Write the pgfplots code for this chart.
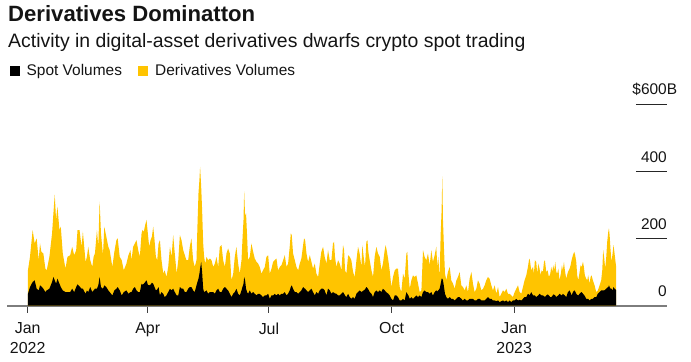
\documentclass[border=0pt]{standalone}
\usepackage{pgfplots}
\pgfplotsset{compat=1.18}
\usepackage{pgfplotstable}
\usepackage{fontspec}
\setmainfont{Liberation Sans}
\definecolor{byellow}{RGB}{255,196,0}
\definecolor{axgray}{RGB}{125,125,125}
\definecolor{txt}{RGB}{20,20,20}
\pgfplotstableread{
d y s
0 105 35
1.5 145 55
3.5 225 70
5 185 75
6.5 200 50
8 135 45
9 185 60
10 160 57
11.5 155 50
13 110 40
14 105 45
16 145 50
18 215 70
19 275 85
20 330 75
21 255 65
22 295 80
23.5 225 65
24.5 235 55
26 155 45
28 110 40
29.5 145 40
31.5 150 40
33 175 50
34.5 150 40
36 165 55
37 225 63
38.5 225 57
40 175 50
41 220 50
43 130 35
44 145 45
45 175 40
46.5 135 55
48 115 40
49 145 45
50 155 50
51.5 225 50
52.5 175 60
53.5 310 85
54.5 215 55
56 150 50
57 235 60
58.5 205 55
60 175 45
61 165 40
63 115 30
64.5 160 45
66 195 50
67 200 55
68.5 145 45
70 135 30
71.5 105 40
73.5 125 45
75 150 35
76.5 165 40
77.3 135 40
78.5 175 50
79.8 185 55
81 195 45
82.3 165 40
83.5 145 40
84.8 215 65
85.5 225 62
86.5 220 65
87.5 240 70
88.5 255 75
89.5 215 62
90.5 175 60
91.5 195 62
92.5 205 68
93.5 235 65
94.5 195 55
95.5 145 45
96.5 135 48
97.5 185 55
98.5 195 30
99.7 135 40
101 95 35
102 105 25
103.4 85 30
104.7 115 40
106 175 50
107.2 145 45
108.4 210 50
109.6 155 40
111 95 30
112.2 135 30
113.4 210 55
114.6 195 50
115.9 165 50
117.1 150 40
118.3 135 40
119.6 135 50
120.8 175 55
122 200 55
123.3 135 45
124.5 115 40
125.8 135 60
126.5 235 70
127.3 335 80
128 375 95
128.5 413 110
129.3 355 130
130 285 100
130.8 185 50
131.5 145 40
132.3 125 42
133.3 145 45
134.5 135 35
135.8 140 40
137 135 40
138.3 115 40
139.5 125 35
140.7 145 45
142 115 50
143.2 175 40
144.5 180 40
145.7 135 50
147 115 55
148.2 155 50
149.4 170 45
150.7 155 35
151.9 75 25
153.2 95 35
154.4 145 40
155.6 175 50
156.9 125 35
158.1 95 30
159.4 135 45
160.1 195 55
160.9 255 65
161.4 340 85
162.1 265 75
162.8 275 50
163.6 205 40
164.3 135 35
165.6 145 45
166.8 185 35
168.1 160 40
169.3 140 35
170.6 130 30
171.8 125 35
173 115 35
174.3 95 30
175.5 105 25
176.8 115 30
178 145 30
179.3 150 35
180.5 95 20
181.8 110 30
183 130 30
184.2 135 35
185.5 140 30
186.7 105 35
188 115 30
189.2 120 35
190.5 135 35
191.7 150 40
193 115 30
194.2 125 35
195.4 175 45
196.2 215 55
196.9 210 60
197.9 155 50
199.2 135 40
200.4 115 40
201.7 105 35
202.9 125 40
204.1 140 45
205.4 180 55
206.1 200 52
206.9 195 50
207.9 155 45
209.1 130 40
210.4 150 45
211.6 130 50
212.8 110 40
214.1 125 30
215.3 95 40
216.6 85 35
217.8 125 45
219 160 50
220.3 175 50
221.5 145 45
222.8 125 30
224 165 50
225.3 135 45
226.5 135 35
227.7 185 40
228.5 190 38
229.2 145 36
230.2 115 35
231.5 135 30
232.7 125 30
234 105 35
235.2 180 40
236 165 35
236.7 105 30
237.7 95 25
239 150 35
240.2 145 25
241.4 135 20
242.7 100 25
243.9 85 20
245.2 135 35
246.4 175 40
247.6 155 45
248.9 115 40
249.6 180 42
250.6 145 45
251.6 115 48
252.6 190 55
253.4 195 52
254.1 160 48
255.1 135 40
256.4 105 35
257.6 85 25
258.8 145 40
260.1 175 45
261.3 155 40
262.6 145 45
263.8 105 40
265 125 50
266.3 165 45
267 180 42
268 160 38
269 135 35
270 105 30
271.3 55 20
272.5 85 15
273.8 105 30
275 110 30
276.2 110 25
277.5 55 15
278.7 40 15
280 95 20
281.2 80 15
282.5 155 40
283.2 160 35
284 95 30
285 50 20
286.2 75 25
287.4 90 20
288.7 85 25
289.9 90 30
291.2 65 25
292.4 40 30
293.7 45 25
294.9 165 40
296.1 145 45
297.4 135 40
298.6 155 40
299.9 120 35
301.1 165 40
302.3 130 30
303.6 150 40
304.8 175 45
305.6 115 42
306.3 145 45
307.3 85 50
308.1 215 65
308.8 285 80
309.3 385 80
309.8 255 75
310.6 165 55
311.3 95 35
312.3 75 25
313.5 100 20
314.8 115 25
316 75 20
317.3 65 20
318.5 50 15
319.8 75 20
321 85 25
322.2 100 25
323.5 60 20
324.7 55 15
326 45 20
327.2 60 15
328.5 40 15
329.7 80 20
331 100 20
332.2 65 20
333.4 40 15
334.7 50 15
335.9 75 20
337.2 65 20
338.4 45 15
339.7 50 15
340.9 60 15
342.1 75 20
343.4 85 25
344.6 80 20
345.9 60 20
347.1 45 15
348.4 60 15
349.6 35 13
350.9 55 15
352.1 25 10
353.3 35 13
354.6 45 15
355.8 40 12
357.1 50 15
358.3 35 10
359.5 35 15
360.8 30 10
362 25 15
363.3 40 15
364.5 50 20
365.8 60 15
367 40 17
368.3 35 15
369.5 55 20
370.7 75 25
372 90 25
373.2 115 35
374 135 33
374.5 140 30
375.7 105 40
377 115 30
377.7 95 30
378.4 135 30
379.4 130 25
380.2 95 28
380.9 125 30
381.9 110 35
382.7 90 32
383.4 105 30
384.4 100 30
385.2 130 28
385.9 135 25
386.9 100 30
387.9 105 33
388.9 85 30
389.9 95 25
390.6 115 25
391.4 100 28
392.1 120 33
392.9 105 32
393.6 130 30
394.4 100 25
395.1 95 28
395.9 110 30
396.8 75 35
397.8 95 32
398.6 120 30
399.3 105 35
400.1 130 32
400.8 105 30
401.8 80 25
403.1 100 40
404.3 110 45
405.1 120 38
405.8 135 30
406.8 150 40
407.8 160 45
408.5 150 42
409.3 130 35
410 90 32
410.8 75 30
411.8 100 35
412.5 120 38
413.3 115 40
414.3 130 35
415 115 32
415.7 90 28
416.7 80 20
417.5 75 20
418.2 90 20
419.2 65 15
420 85 18
420.7 90 20
421.7 75 20
423 60 25
424.2 40 25
425.4 45 35
426.7 60 40
427.9 75 45
428.7 105 45
429.4 165 45
430.2 140 45
430.9 110 47
431.7 145 50
432.4 190 53
433.2 220 55
433.7 230 60
434.2 210 55
434.9 165 50
435.6 130 50
436.4 155 45
437.1 180 55
437.9 155 50
438.6 130 48
439.1 115 45
}\vol

\begin{document}
\begin{tikzpicture}[x=1bp,y=1bp]
\useasboundingbox (0,0) rectangle (691,-361);
\node[anchor=base west, inner sep=0, text=txt, font=\fontsize{22.2}{26}\selectfont\bfseries] at (8,-21.5) {Derivatives Dominatton};
\node[anchor=base west, inner sep=0, text=txt, font=\fontsize{19.5}{23}\selectfont] at (8,-47.5) {Activity in digital-asset derivatives dwarfs crypto spot trading};
\fill[black] (10,-75.5) rectangle (20,-65.5);
\node[anchor=base west, inner sep=0, text=txt, font=\fontsize{15.5}{18}\selectfont] at (26.5,-75.5) {Spot Volumes};
\fill[byellow] (137.7,-75.5) rectangle (147.7,-65.5);
\node[anchor=base west, inner sep=0, text=txt, font=\fontsize{15.5}{18}\selectfont] at (155,-75.5) {Derivatives Volumes};
\begin{axis}[
  at={(7.3bp,-305.5bp)}, anchor=south west,
  scale only axis, width=659.4bp, height=201.3bp,
  xmin=-15.3, xmax=479.4, ymin=0, ymax=600,
  axis x line=bottom, axis y line=none,
  x axis line style={axgray, line width=2bp, -},
  xtick={0,90,181,273,365},
  xticklabels={{Jan\\2022},Apr,Jul,Oct,{Jan\\2023}},
  xticklabel style={align=center, text=txt, font=\fontsize{16}{19.5}\selectfont, inner sep=0pt, yshift=-10bp},
  tick align=outside, major tick length=7bp,
  x tick style={black!75, line width=1bp},
  ytick=\empty,
  clip=false,
]
\addplot[draw=none, fill=byellow] table[x expr={\thisrow{d}*1.005+0.2},y=y]{\vol} \closedcycle;
\addplot[draw=none, fill=black] table[x expr={\thisrow{d}*1.005+0.2},y=s]{\vol} \closedcycle;
\draw[black!85, line width=1bp] (axis cs:456.3,200) -- (axis cs:479.6,200);
\draw[black!85, line width=1bp] (axis cs:456.3,400) -- (axis cs:479.6,400);
\draw[black!85, line width=1bp] (axis cs:456.3,600) -- (axis cs:479.6,600);
\node[anchor=base east, inner sep=0, yshift=9.3bp, text=txt, font=\fontsize{15.5}{18}\selectfont] at (axis cs:479.6,0) {0};
\node[anchor=base east, inner sep=0, yshift=9.3bp, text=txt, font=\fontsize{15.5}{18}\selectfont] at (axis cs:479.6,200) {200};
\node[anchor=base east, inner sep=0, yshift=9.3bp, text=txt, font=\fontsize{15.5}{18}\selectfont] at (axis cs:479.6,400) {400};
\node[anchor=base east, inner sep=0, yshift=9.3bp, text=txt, font=\fontsize{15.5}{18}\selectfont] at (axis cs:479.6,600) {\$600\rlap{B}};
\end{axis}
\end{tikzpicture}
\end{document}
